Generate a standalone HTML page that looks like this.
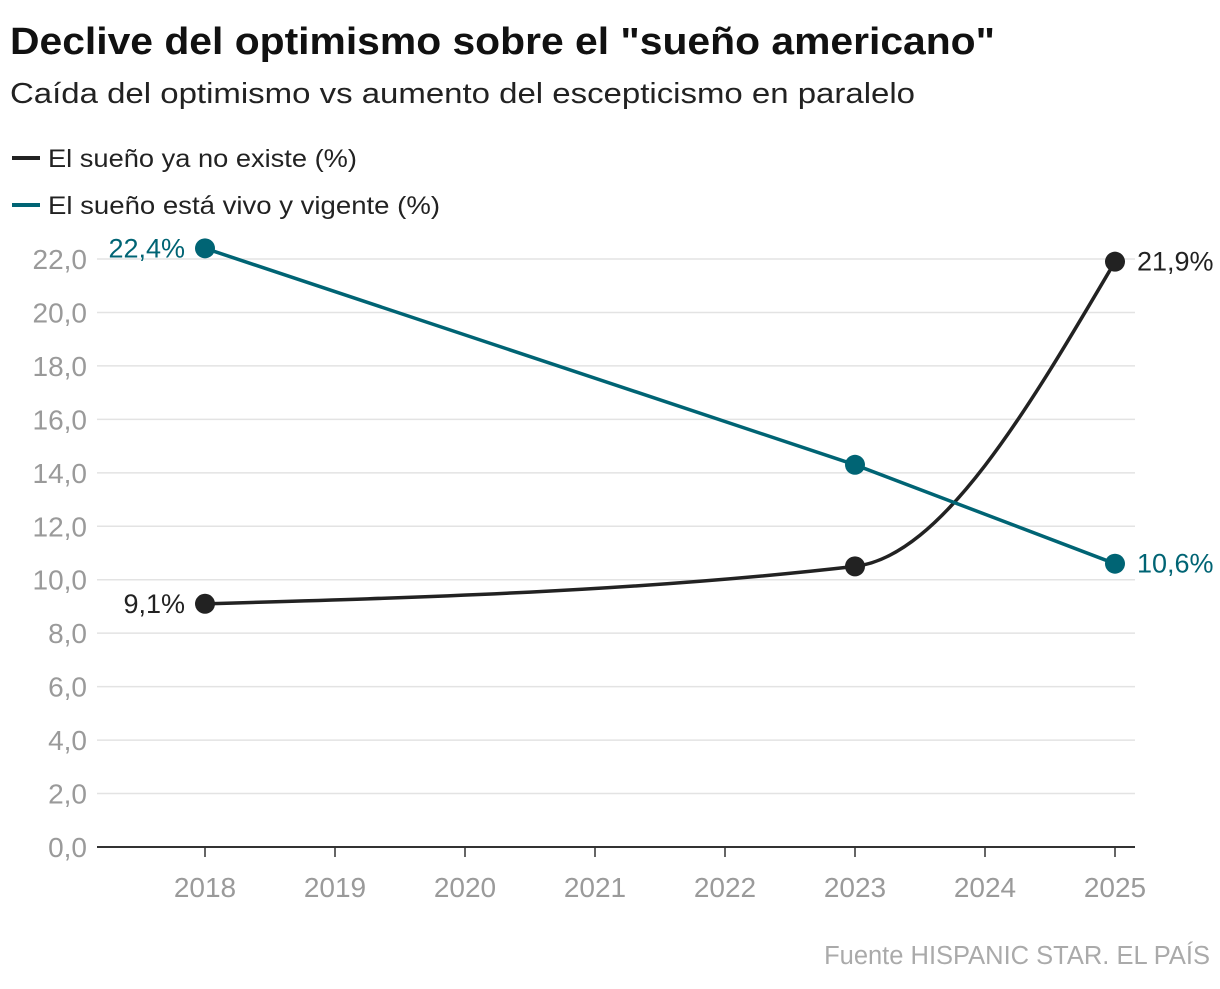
<!DOCTYPE html>
<html><head><meta charset="utf-8">
<style>
body{margin:0;background:#fff;width:1220px;height:984px;overflow:hidden;font-family:"Liberation Sans",sans-serif;}
svg text{font-family:"Liberation Sans",sans-serif;}
</style></head>
<body>
<svg id="chart" width="1220" height="984">
<text x="10" y="54" font-size="38" font-weight="bold" fill="#111" textLength="985" lengthAdjust="spacingAndGlyphs">Declive del optimismo sobre el "sueño americano"</text>
<text x="10" y="103" font-size="29" fill="#222" textLength="905" lengthAdjust="spacingAndGlyphs">Caída del optimismo vs aumento del escepticismo en paralelo</text>
<g><line x1="12" y1="158" x2="40" y2="158" stroke="#222" stroke-width="4"/><text x="48" y="167" font-size="25" fill="#222" textLength="309" lengthAdjust="spacingAndGlyphs">El sueño ya no existe (%)</text></g>
<g><line x1="12" y1="205" x2="40" y2="205" stroke="#006474" stroke-width="4"/><text x="48" y="214" font-size="25" fill="#222" textLength="392" lengthAdjust="spacingAndGlyphs">El sueño está vivo y vigente (%)</text></g>
<g id="grid"></g><g id="marks"></g>
<text x="1210" y="964" font-size="25.5" fill="#aaa" text-anchor="end">Fuente HISPANIC STAR. EL PAÍS</text>
</svg>
<script>
const years=[2018,2019,2020,2021,2022,2023,2024,2025];
const yTicks=[0,2,4,6,8,10,12,14,16,18,20,22];
const seriesYears=[2018,2023,2025];
const noExiste=[9.1,10.5,21.9];
const vivo=[22.4,14.3,10.6];
const NS="http://www.w3.org/2000/svg";
const x=v=>205+(v-2018)*130;
const y=v=>847-v*26.727;
function mk(tag,attrs,parent){const e=document.createElementNS(NS,tag);for(const k in attrs)e.setAttribute(k,attrs[k]);parent.appendChild(e);return e;}
const grid=document.getElementById('grid'),marks=document.getElementById('marks');
yTicks.forEach(t=>{
 if(t>0){const l=mk('line',{x1:97,x2:1135,y1:y(t),y2:y(t),stroke:'#e3e3e3','stroke-width':1.5},grid);
 
 }
 const tx=mk('text',{x:87,y:y(t)+10,'font-size':28,fill:'#9a9a9a','text-anchor':'end'},grid);
 tx.textContent=t.toFixed(1).replace('.',',');
 
 
});
const ax=mk('line',{x1:97,x2:1135,y1:847,y2:847,stroke:'#333','stroke-width':2},grid);


years.forEach(yr=>{
 mk('line',{x1:x(yr),x2:x(yr),y1:847,y2:857,stroke:'#333','stroke-width':1.5},grid);
 const tx=mk('text',{x:x(yr),y:897,'font-size':28,fill:'#9a9a9a','text-anchor':'middle'},grid);
 tx.textContent=yr;
 
 
});
function monotone(xs,ys){
 const n=xs.length,d=[],m=[];
 for(let i=0;i<n-1;i++)d.push((ys[i+1]-ys[i])/(xs[i+1]-xs[i]));
 for(let i=1;i<n-1;i++){const h0=xs[i]-xs[i-1],h1=xs[i+1]-xs[i];const s0=d[i-1],s1=d[i];const p=(s0*h1+s1*h0)/(h0+h1);
  m[i]=(Math.sign(s0)+Math.sign(s1))*Math.min(Math.abs(s0),Math.abs(s1),0.5*Math.abs(p))||0;}
 m[0]=(3*d[0]-m[1])/2;m[n-1]=(3*d[n-2]-m[n-2])/2;
 let s=`M${xs[0]},${ys[0]}`;
 for(let i=0;i<n-1;i++){const h=(xs[i+1]-xs[i])/3;s+=`C${xs[i]+h},${ys[i]+h*m[i]} ${xs[i+1]-h},${ys[i+1]-h*m[i+1]} ${xs[i+1]},${ys[i+1]}`;}
 return s;
}
const xs=seriesYears.map(x);
const p1=mk('path',{d:monotone(xs,noExiste.map(y)),fill:'none',stroke:'#222','stroke-width':3.5},marks);


const p2=mk('path',{d:'M'+xs.map((xx,i)=>xx+','+y(vivo[i])).join('L'),fill:'none',stroke:'#006474','stroke-width':3.5},marks);


[[noExiste,'#222','no-existe'],[vivo,'#006474','vivo']].forEach(([vals,c,nm])=>{
 vals.forEach((v,i)=>{
  const ci=mk('circle',{cx:xs[i],cy:y(v),r:10,fill:c},marks);
  
  
  if(i!==1){
   const first=i===0;
   const t=mk('text',{x:first?xs[i]-20:xs[i]+22,y:y(v)+9,'font-size':27,fill:c,'text-anchor':first?'end':'start'},marks);
   t.textContent=v.toFixed(1).replace('.',',')+'%';
   
   
  }
 });
});
</script>
</body></html>
